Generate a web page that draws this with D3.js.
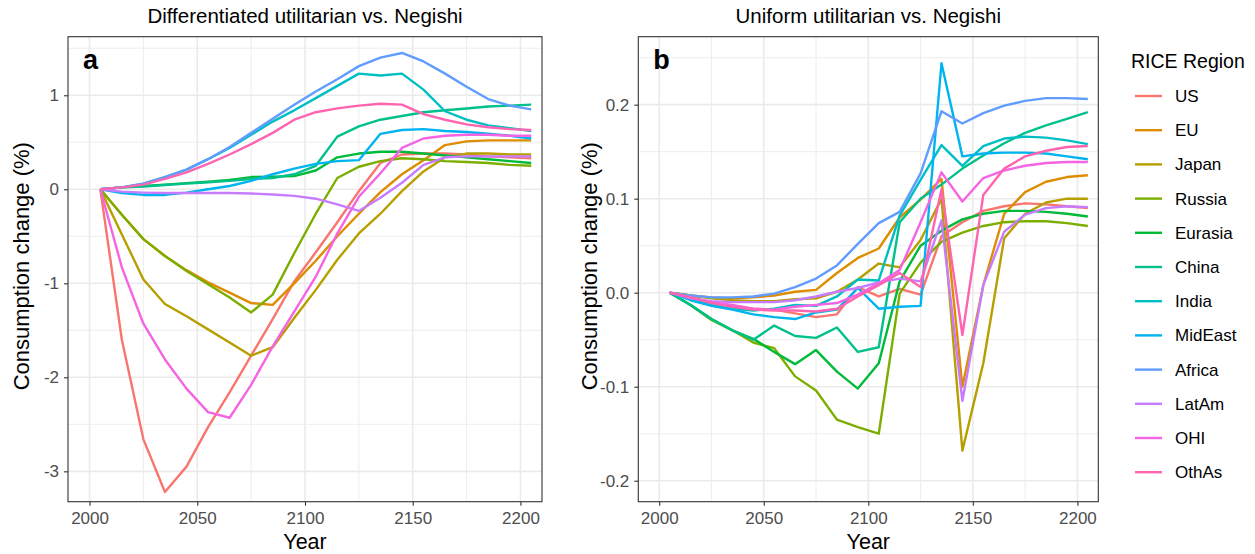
<!DOCTYPE html>
<html><head><meta charset="utf-8">
<script src="https://cdn.jsdelivr.net/npm/d3@7"></script>
<style>body{margin:0;background:#fff;} text{font-family:"Liberation Sans",Arial,sans-serif;}</style>
</head><body>
<script>
// ---------- data ----------
const years = [2005,2015,2025,2035,2045,2055,2065,2075,2085,2095,2105,2115,2125,2135,2145,2155,2165,2175,2185,2195,2205];
const regions = ["US","EU","Japan","Russia","Eurasia","China","India","MidEast","Africa","LatAm","OHI","OthAs"];
const palette = ["#F8766D","#DE8C00","#B79F00","#7CAE00","#00BA38","#00C08B","#00BFC4","#00B4F0","#619CFF","#C77CFF","#F564E3","#FF64B0"];
const xTicks = [2000,2050,2100,2150,2200];
const yTicksA = [-3,-2,-1,0,1];
const yTicksB = [-0.2,-0.1,0.0,0.1,0.2];
const yTickLabelsB = ["-0.2","-0.1","0.0","0.1","0.2"];

// Panel a: Differentiated utilitarian vs. Negishi (% consumption change)
const diffUS      = [0,-1.60,-2.66,-3.22,-2.95,-2.53,-2.16,-1.77,-1.38,-0.98,-0.67,-0.35,-0.02,0.28,0.37,0.38,0.38,0.37,0.35,0.34,0.33];
const diffEU      = [0,-0.27,-0.53,-0.71,-0.86,-0.99,-1.10,-1.21,-1.23,-1.00,-0.76,-0.50,-0.26,-0.03,0.16,0.31,0.47,0.51,0.52,0.52,0.52];
const diffJapan   = [0,-0.48,-0.96,-1.22,-1.35,-1.49,-1.63,-1.77,-1.68,-1.37,-1.07,-0.75,-0.47,-0.26,-0.02,0.19,0.34,0.38,0.38,0.37,0.37];
const diffRussia  = [0,-0.27,-0.53,-0.71,-0.87,-1.01,-1.15,-1.31,-1.12,-0.68,-0.26,0.12,0.24,0.30,0.33,0.32,0.30,0.29,0.28,0.26,0.25];
const diffEurasia = [0,0.02,0.035,0.05,0.065,0.08,0.10,0.13,0.135,0.14,0.20,0.34,0.38,0.40,0.40,0.38,0.36,0.34,0.32,0.30,0.28];
const diffChina   = [0,0.02,0.03,0.045,0.06,0.075,0.09,0.11,0.12,0.16,0.25,0.56,0.67,0.74,0.78,0.82,0.84,0.86,0.88,0.89,0.90];
const diffIndia   = [0,0.02,0.06,0.13,0.21,0.32,0.44,0.58,0.72,0.84,0.97,1.10,1.23,1.21,1.23,1.06,0.83,0.74,0.68,0.65,0.62];
const diffMidEast = [0,-0.04,-0.06,-0.06,-0.035,0.0,0.035,0.09,0.16,0.22,0.27,0.30,0.31,0.59,0.63,0.64,0.62,0.61,0.59,0.57,0.54];
const diffAfrica  = [0,0.02,0.06,0.13,0.21,0.32,0.45,0.60,0.75,0.90,1.04,1.17,1.31,1.40,1.45,1.36,1.23,1.09,0.96,0.89,0.85];
const diffLatAm   = [0,-0.025,-0.035,-0.04,-0.04,-0.04,-0.04,-0.045,-0.055,-0.07,-0.10,-0.16,-0.23,-0.09,0.07,0.26,0.34,0.35,0.35,0.35,0.35];
const diffOHI     = [0,-0.83,-1.43,-1.81,-2.12,-2.37,-2.43,-2.08,-1.67,-1.30,-0.93,-0.47,-0.08,0.17,0.44,0.54,0.57,0.58,0.58,0.57,0.57];
const diffOthAs   = [0,0.02,0.05,0.11,0.18,0.27,0.37,0.48,0.60,0.74,0.82,0.86,0.89,0.91,0.90,0.80,0.74,0.69,0.66,0.64,0.63];

// Panel b: Uniform utilitarian vs. Negishi
const uniUS      = [0,-0.005,-0.011,-0.014,-0.017,-0.018,-0.022,-0.026,-0.023,0.006,-0.004,0.004,-0.002,0.060,0.075,0.087,0.092,0.095,0.094,0.092,0.090];
const uniEU      = [0,-0.003,-0.005,-0.006,-0.005,-0.003,0.001,0.003,0.021,0.037,0.047,0.080,0.099,0.121,-0.100,0.008,0.084,0.107,0.118,0.123,0.125];
const uniJapan   = [0,-0.003,-0.006,-0.008,-0.009,-0.009,-0.007,-0.006,0.001,0.014,0.031,0.027,0.056,0.100,-0.168,-0.075,0.058,0.084,0.096,0.100,0.100];
const uniRussia  = [0,-0.013,-0.029,-0.040,-0.053,-0.059,-0.089,-0.104,-0.135,-0.143,-0.150,-0.001,0.032,0.054,0.064,0.071,0.075,0.076,0.076,0.074,0.071];
const uniEurasia = [0,-0.013,-0.028,-0.040,-0.049,-0.063,-0.076,-0.061,-0.084,-0.102,-0.075,0.012,0.050,0.066,0.078,0.084,0.087,0.087,0.086,0.084,0.081];
const uniChina   = [0,-0.013,-0.028,-0.040,-0.050,-0.035,-0.046,-0.048,-0.037,-0.063,-0.058,0.075,0.100,0.115,0.132,0.146,0.159,0.170,0.178,0.185,0.192];
const uniIndia   = [0,-0.006,-0.013,-0.017,-0.019,-0.017,-0.013,-0.014,-0.004,0.014,0.013,0.082,0.120,0.157,0.135,0.156,0.164,0.166,0.165,0.162,0.158];
const uniMidEast = [0,-0.008,-0.014,-0.018,-0.023,-0.026,-0.028,-0.021,-0.018,0.005,-0.017,-0.015,-0.014,0.244,0.145,0.148,0.149,0.149,0.148,0.145,0.142];
const uniAfrica  = [0,-0.003,-0.005,-0.005,-0.004,-0.001,0.006,0.015,0.029,0.052,0.074,0.086,0.127,0.193,0.180,0.191,0.199,0.204,0.207,0.207,0.206];
const uniLatAm   = [0,-0.006,-0.009,-0.010,-0.010,-0.010,-0.008,-0.004,0.001,0.005,0.011,0.015,0.012,0.077,-0.115,0.008,0.065,0.083,0.090,0.092,0.091];
const uniOHI     = [0,-0.005,-0.010,-0.013,-0.017,-0.018,-0.015,-0.013,-0.011,-0.002,0.010,0.024,0.075,0.128,0.097,0.122,0.130,0.135,0.138,0.139,0.139];
const uniOthAs   = [0,-0.005,-0.011,-0.015,-0.018,-0.019,-0.019,-0.020,-0.017,-0.004,0.008,0.021,0.006,0.110,-0.045,0.104,0.132,0.145,0.151,0.155,0.156];

const diffSeries = [diffUS,diffEU,diffJapan,diffRussia,diffEurasia,diffChina,diffIndia,diffMidEast,diffAfrica,diffLatAm,diffOHI,diffOthAs];
const uniSeries  = [uniUS,uniEU,uniJapan,uniRussia,uniEurasia,uniChina,uniIndia,uniMidEast,uniAfrica,uniLatAm,uniOHI,uniOthAs];

// ---------- drawing ----------
const W = 1255, H = 554;
const svg = d3.select("body").append("svg").attr("width", W).attr("height", H);
const color = d3.scaleOrdinal().domain(regions).range(palette);

const panels = [
  {id:"a", title:"Differentiated utilitarian vs. Negishi", left:68, right:542, top:36.7, bottom:501.7,
   yDomain:[-3.323,1.623], yTicks:yTicksA, yLabels:yTicksA.map(String), yMinor:[-2.5,-1.5,-0.5,0.5,1.5], series:diffSeries},
  {id:"b", title:"Uniform utilitarian vs. Negishi", left:638.3, right:1098.3, top:36.7, bottom:501.7,
   yDomain:[-0.2223,0.2723], yTicks:yTicksB, yLabels:yTickLabelsB, yMinor:[-0.15,-0.05,0.05,0.15,0.25], series:uniSeries}
];
const xMinor = [2025,2075,2125,2175];

panels.forEach((p, pi) => {
  const x = d3.scaleLinear().domain([1990, 2210]).range([p.left, p.right]);
  const y = d3.scaleLinear().domain(p.yDomain).range([p.bottom, p.top]);
  const g = svg.append("g");
  const clipId = "clip" + p.id;
  svg.append("clipPath").attr("id", clipId).append("rect")
    .attr("x", p.left).attr("y", p.top).attr("width", p.right - p.left).attr("height", p.bottom - p.top);

  const grid = g.append("g").attr("clip-path", `url(#${clipId})`);
  grid.selectAll("line.xm").data(xMinor).join("line")
    .attr("x1", d => x(d)).attr("x2", d => x(d)).attr("y1", p.top).attr("y2", p.bottom)
    .attr("stroke", "#EBEBEB").attr("stroke-width", 0.9);
  grid.selectAll("line.ym").data(p.yMinor).join("line")
    .attr("x1", p.left).attr("x2", p.right).attr("y1", d => y(d)).attr("y2", d => y(d))
    .attr("stroke", "#EBEBEB").attr("stroke-width", 0.9);
  grid.selectAll("line.xM").data(xTicks).join("line")
    .attr("x1", d => x(d)).attr("x2", d => x(d)).attr("y1", p.top).attr("y2", p.bottom)
    .attr("stroke", "#EBEBEB").attr("stroke-width", 1.6);
  grid.selectAll("line.yM").data(p.yTicks).join("line")
    .attr("x1", p.left).attr("x2", p.right).attr("y1", d => y(d)).attr("y2", d => y(d))
    .attr("stroke", "#EBEBEB").attr("stroke-width", 1.6);

  const line = d3.line().x((d, i) => x(years[i])).y(d => y(d));
  g.append("g").attr("clip-path", `url(#${clipId})`)
    .selectAll("path").data(p.series).join("path")
    .attr("d", d => line(d))
    .attr("fill", "none")
    .attr("stroke", (d, i) => color(regions[i]))
    .attr("stroke-width", 2.4)
    .attr("stroke-linejoin", "round");

  g.append("rect").attr("x", p.left).attr("y", p.top)
    .attr("width", p.right - p.left).attr("height", p.bottom - p.top)
    .attr("fill", "none").attr("stroke", "#333333").attr("stroke-width", 1.1);

  const xAxis = d3.axisBottom(x).tickValues(xTicks).tickSize(4).tickPadding(6).tickFormat(d3.format("d"));
  const ax = g.append("g").attr("transform", `translate(0,${p.bottom})`).call(xAxis);
  const yAxis = d3.axisLeft(y).tickValues(p.yTicks).tickSize(4).tickPadding(5)
    .tickFormat((d, i) => p.yLabels[i]);
  const ay = g.append("g").attr("transform", `translate(${p.left},0)`).call(yAxis);
  [ax, ay].forEach(a => {
    a.select(".domain").remove();
    a.selectAll(".tick line").attr("stroke", "#333333").attr("stroke-width", 1.1);
    a.selectAll(".tick text").attr("fill", "#4D4D4D").style("font-size", "17px")
      .style("font-family", "'Liberation Sans', Arial, sans-serif");
  });

  g.append("text").attr("x", (p.left + p.right) / 2).attr("y", 23)
    .attr("text-anchor", "middle").style("font-size", "20.5px").attr("fill", "#000")
    .text(p.title);
  g.append("text").attr("x", (p.left + p.right) / 2).attr("y", 549)
    .attr("text-anchor", "middle").style("font-size", "21.5px").attr("fill", "#000")
    .text("Year");
  const ylx = pi === 0 ? 29 : 597;
  g.append("text").attr("transform", `translate(${ylx},${(p.top + p.bottom) / 2 - 3}) rotate(-90)`)
    .attr("text-anchor", "middle").style("font-size", "22px").attr("fill", "#000")
    .text("Consumption change (%)");
  g.append("text").attr("x", p.left + 15).attr("y", 69)
    .style("font-size", "27px").style("font-weight", "bold").attr("fill", "#000")
    .text(p.id);
});

const lg = svg.append("g");
lg.append("text").attr("x", 1131).attr("y", 68).style("font-size", "19.5px").attr("fill", "#000").text("RICE Region");
const item = lg.selectAll("g.item").data(regions).join("g")
  .attr("transform", (d, i) => `translate(0,${96 + i * 34.2})`);
item.append("line").attr("x1", 1135).attr("x2", 1162).attr("y1", 0).attr("y2", 0)
  .attr("stroke", d => color(d)).attr("stroke-width", 2.4);
item.append("text").attr("x", 1175).attr("y", 6).style("font-size", "17px").attr("fill", "#000").text(d => d);
</script>
</body></html>
